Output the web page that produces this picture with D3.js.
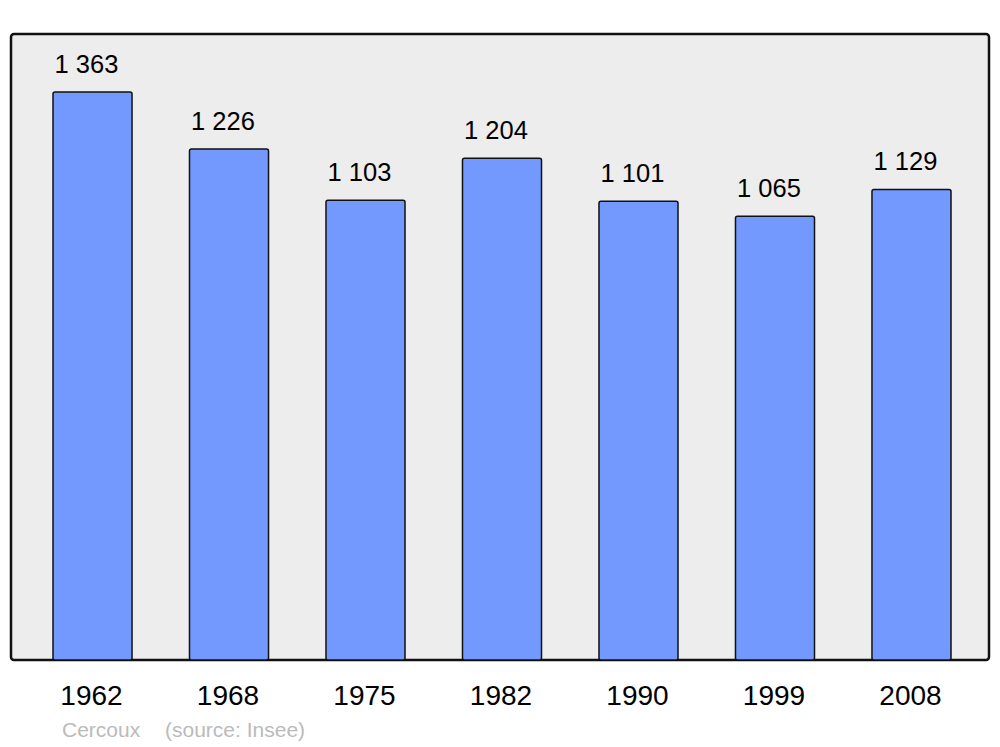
<!DOCTYPE html>
<html lang="fr">
<head>
    <meta charset="UTF-8">
    <title>Cercoux</title>
    <script src="https://d3js.org/d3.v7.min.js"></script>
    <style>
        body { margin: 0; background: #fff; }
        svg text { font-family: "Liberation Sans", Arial, sans-serif; }
    </style>
</head>
<body>
<svg id="canvas" width="1000" height="747"></svg>
<script>
    let years = ["1962", "1968", "1975", "1982", "1990", "1999", "2008"];
    let population = [1363, 1226, 1103, 1204, 1101, 1065, 1129];
    let labels = ["1 363", "1 226", "1 103", "1 204", "1 101", "1 065", "1 129"];

    let svg = d3.select("#canvas");
    let panelLeft = 11, panelRight = 989, panelTop = 34, panelBottom = 660;

    // barres : première à 53, dernière finit à 951
    let x = d3.scaleBand()
        .domain(years)
        .range([53, 951])
        .paddingInner(0.421)
        .paddingOuter(0);

    let y = d3.scaleLinear()
        .domain([0, 1502])
        .range([panelBottom, panelTop]);

    svg.append("rect")
        .attr("x", panelLeft).attr("y", panelTop)
        .attr("width", panelRight - panelLeft).attr("height", panelBottom - panelTop)
        .attr("rx", 3)
        .attr("fill", "#ededed")
        .attr("stroke", "#111")
        .attr("stroke-width", 2.5);

    let bars = svg.append("g");
    bars.selectAll("rect")
        .data(population)
        .join("rect")
        .attr("x", (d, i) => x(years[i]))
        .attr("y", d => y(d))
        .attr("width", x.bandwidth())
        .attr("height", d => panelBottom - y(d))
        .attr("rx", 2)
        .attr("fill", "#7399ff")
        .attr("stroke", "#111")
        .attr("stroke-width", 1.5);

    bars.selectAll("text")
        .data(population)
        .join("text")
        .attr("x", (d, i) => x(years[i]) + x.bandwidth() / 2 - 6)
        .attr("y", d => y(d) - 19)
        .attr("text-anchor", "middle")
        .attr("font-size", 25.5)
        .attr("fill", "#000")
        .text((d, i) => labels[i]);

    // axe des années, sans trait
    let axis = svg.append("g")
        .attr("transform", "translate(0," + panelBottom + ")")
        .call(d3.axisBottom(x).tickSize(0).tickPadding(0));
    axis.select(".domain").remove();
    axis.selectAll("text")
        .attr("dy", null)
        .attr("y", 45)
        .attr("x", -1)
        .attr("font-size", 28)
        .attr("font-family", "Liberation Sans, Arial, sans-serif")
        .attr("fill", "#000");

    svg.append("text")
        .attr("x", 62).attr("y", 737)
        .attr("font-size", 21)
        .attr("fill", "#bbb")
        .text("Cercoux");
    svg.append("text")
        .attr("x", 165).attr("y", 737)
        .attr("font-size", 21)
        .attr("fill", "#bbb")
        .text("(source: Insee)");
</script>
</body>
</html>
